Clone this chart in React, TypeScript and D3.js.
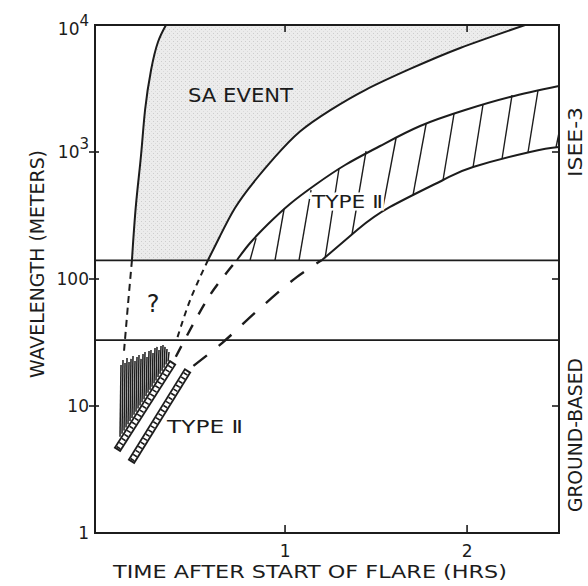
import React, { useEffect, useRef } from "react";
import * as d3 from "d3";

// points are [hours after flare start, wavelength in meters]
const saLeft = [[0.159, 141], [0.181, 383], [0.209, 947], [0.231, 2142], [0.264, 4424], [0.302, 7345], [0.346, 10000]];
const saRight = [[0.577, 141], [0.643, 218], [0.725, 362], [0.824, 570], [0.945, 914], [1.082, 1450], [1.247, 2130], [1.44, 3076], [1.687, 4508], [1.962, 6593], [2.319, 10000]];
const typeTwoUpper = [[0.736, 141], [0.808, 192], [0.907, 271], [1.027, 390], [1.165, 550], [1.33, 790], [1.522, 1115], [1.742, 1603], [1.989, 2142], [2.236, 2711], [2.505, 3311]];
const typeTwoLower = [[1.203, 141], [1.396, 243], [1.577, 369], [1.868, 602], [2.033, 762], [2.346, 1000], [2.505, 1094]];

const saLeftExt = [[0.159, 141], [0.137, 62.4], [0.115, 26.6]];
const saRightExt = [[0.577, 141], [0.478, 68], [0.401, 31.9]];
const typeTwoUpperExt = [[0.385, 22.2], [0.588, 74.8], [0.736, 141]];
const typeTwoLowerExt = [[0.467, 19.2], [0.654, 31.3], [0.846, 56], [1.066, 104], [1.203, 141]];

// ground based type II drifts (ladder strips)
const stripUpper = [[0.077, 4.5], [0.385, 22.2]];
const stripLower = [[0.154, 3.62], [0.467, 19.2]];

// hatching in the ISEE-3 type II band: [t0, m0, t1, m1]
const bandHatch = [
  [0.808, 141, 0.841, 210],
  [0.945, 141, 0.995, 356],
  [1.077, 141, 1.143, 502],
  [1.22, 146, 1.297, 748],
  [1.368, 226, 1.445, 1018],
  [1.533, 337, 1.61, 1289],
  [1.703, 458, 1.775, 1662],
  [1.868, 602, 1.929, 2028],
  [2.033, 762, 2.088, 2388],
  [2.192, 881, 2.247, 2811],
  [2.335, 1000, 2.39, 3077],
  [2.489, 1095, 2.505, 1412],
];

// type III burst hatching: [t, bottom m, top m]
const burstHatch = [
  [0.0934, 5.72, 21.0], [0.1044, 6.05, 23.0], [0.1154, 6.4, 21.8], [0.1264, 6.78, 23.9],
  [0.1374, 7.18, 22.2], [0.1484, 7.6, 23.5], [0.1593, 8.04, 24.8], [0.1703, 8.52, 22.6],
  [0.1813, 9.02, 24.3], [0.1923, 9.54, 25.2], [0.2033, 10.1, 23.5], [0.2143, 10.7, 25.7],
  [0.2253, 11.3, 26.6], [0.2363, 12.0, 24.3], [0.2473, 12.7, 27.1], [0.2582, 13.4, 27.6],
  [0.2692, 14.2, 26.1], [0.2802, 15.1, 28.6], [0.2912, 15.9, 29.2], [0.3022, 16.9, 27.6],
  [0.3132, 17.9, 29.7], [0.3242, 18.9, 30.2], [0.3352, 20.0, 29.2], [0.3462, 21.2, 28.1],
  [0.3571, 22.4, 26.6],
];

const bandLimits = [140, 33];
const yTicks = [1, 10, 100, 1000, 10000];
const yTickLabels = ["1", "10", "100", "10|3", "10|4"];
const xTicks = [1, 2];
const xTickLabels = ["1", "2"];

const FONT = "DejaVu Sans, Liberation Sans, sans-serif";
const INK = "#1c1c1c";

export default function App() {
  const ref = useRef<SVGSVGElement>(null);

  useEffect(() => {
    const svg = d3.select(ref.current);
    svg.selectAll("*").remove();

    const x = d3.scaleLinear().domain([-0.044, 2.505]).range([95, 559]);
    const y = d3.scaleLog().domain([1, 10000]).range([533, 25]);
    const [x0, x1] = x.range();
    const [y0, y1] = y.range();

    const defs = svg.append("defs");
    defs.append("clipPath").attr("id", "plot")
      .append("rect").attr("x", x0).attr("y", y1).attr("width", x1 - x0).attr("height", y0 - y1);
    const pat = defs.append("pattern").attr("id", "stipple")
      .attr("width", 4).attr("height", 4).attr("patternUnits", "userSpaceOnUse");
    pat.append("rect").attr("width", 4).attr("height", 4).attr("fill", "#ececec");
    pat.append("rect").attr("x", 1).attr("y", 1).attr("width", 1).attr("height", 1).attr("fill", "#cdcdcd");
    pat.append("rect").attr("x", 3).attr("y", 3).attr("width", 1).attr("height", 1).attr("fill", "#dadada");

    const smooth = d3.line<number[]>()
      .x(d => x(d[0])).y(d => y(d[1]))
      .curve(d3.curveNatural);
    const line = d3.line<number[]>()
      .x(d => x(d[0])).y(d => y(d[1]))
      .curve(d3.curveCatmullRom.alpha(0.5));

    const g = svg.append("g").attr("clip-path", "url(#plot)");

    // SA event shaded region
    const leftPath = smooth(saLeft) as string;
    const rightPath = smooth(saRight.slice().reverse()) as string;
    g.append("path")
      .attr("d", leftPath + rightPath.replace(/^M/, "L") + "Z")
      .attr("fill", "url(#stipple)");

    // band hatching
    g.selectAll(".bh").data(bandHatch).enter().append("line")
      .attr("x1", d => x(d[0])).attr("y1", d => y(d[1]))
      .attr("x2", d => x(d[2])).attr("y2", d => y(d[3]))
      .attr("stroke", INK).attr("stroke-width", 1.4);

    // boundary curves
    [saLeft, saRight, typeTwoUpper, typeTwoLower].forEach(pts => {
      g.append("path").attr("d", smooth(pts) as string)
        .attr("fill", "none").attr("stroke", INK).attr("stroke-width", 2);
    });

    // horizontal limits between ISEE-3 and ground based
    g.selectAll(".lim").data(bandLimits).enter().append("line")
      .attr("x1", x0).attr("x2", x1)
      .attr("y1", d => y(d)).attr("y2", d => y(d))
      .attr("stroke", INK).attr("stroke-width", 1.8);

    // dashed extrapolations
    const dashed: [number[][], string, number][] = [
      [saLeftExt, "7 5", 2],
      [saRightExt, "6 5", 2],
      [typeTwoUpperExt, "0 6 12 6", 2.4],
      [typeTwoLowerExt, "0 7 17 8", 2.4],
    ];
    dashed.forEach(([pts, dash, w]) => {
      g.append("path").attr("d", line(pts) as string)
        .attr("fill", "none").attr("stroke", INK).attr("stroke-width", w)
        .attr("stroke-dasharray", dash);
    });

    // burst hatching
    g.selectAll(".burst").data(burstHatch).enter().append("line")
      .attr("x1", d => x(d[0])).attr("x2", d => x(d[0]) + 1)
      .attr("y1", d => y(d[1])).attr("y2", d => y(d[2]))
      .attr("stroke", INK).attr("stroke-width", 1.5);

    // ladder strips
    [stripUpper, stripLower].forEach(pts => {
      const ax = x(pts[0][0]), ay = y(pts[0][1]);
      const bx = x(pts[1][0]), by = y(pts[1][1]);
      const len = Math.hypot(bx - ax, by - ay);
      const ux = (bx - ax) / len, uy = (by - ay) / len;
      g.append("line").attr("x1", ax).attr("y1", ay).attr("x2", bx).attr("y2", by)
        .attr("stroke", INK).attr("stroke-width", 8);
      const s = 2;
      g.append("line").attr("x1", ax + ux * s).attr("y1", ay + uy * s)
        .attr("x2", bx - ux * s).attr("y2", by - uy * s)
        .attr("stroke", "#fff").attr("stroke-width", 4.4);
      g.append("line").attr("x1", ax + ux * s).attr("y1", ay + uy * s)
        .attr("x2", bx - ux * s).attr("y2", by - uy * s)
        .attr("stroke", INK).attr("stroke-width", 4.4).attr("stroke-dasharray", "1.6 3.2");
    });

    // frame
    svg.append("rect").attr("x", x0).attr("y", y1).attr("width", x1 - x0).attr("height", y0 - y1)
      .attr("fill", "none").attr("stroke", INK).attr("stroke-width", 2);

    // ticks
    const tk = svg.append("g").attr("stroke", INK).attr("stroke-width", 1.6);
    yTicks.slice(1, 4).forEach(v => {
      tk.append("line").attr("x1", x0 - 6).attr("x2", x0 + 4).attr("y1", y(v)).attr("y2", y(v));
      tk.append("line").attr("x1", x1 - 7).attr("x2", x1).attr("y1", y(v)).attr("y2", y(v));
    });
    xTicks.forEach(v => {
      tk.append("line").attr("x1", x(v)).attr("x2", x(v)).attr("y1", y0).attr("y2", y0 - 8);
      tk.append("line").attr("x1", x(v)).attr("x2", x(v)).attr("y1", y1).attr("y2", y1 + 7);
    });

    const txt = svg.append("g").attr("font-family", FONT).attr("fill", INK);

    // y tick labels
    yTicks.forEach((v, i) => {
      const parts = yTickLabels[i].split("|");
      const t = txt.append("text").attr("x", 89).attr("y", y(v) + (v === 10000 ? 10 : 6))
        .attr("text-anchor", "end").attr("font-size", 17);
      t.append("tspan").text(parts[0]);
      if (parts[1]) t.append("tspan").attr("dy", -9).attr("font-size", 15).text(parts[1]);
    });

    // x tick labels
    xTicks.forEach((v, i) => {
      txt.append("text").attr("x", x(v)).attr("y", 557).attr("text-anchor", "middle")
        .attr("font-size", 17).text(xTickLabels[i]);
    });

    // axis titles
    txt.append("text").attr("x", 113).attr("y", 578).attr("font-size", 18)
      .attr("textLength", 394).attr("lengthAdjust", "spacingAndGlyphs")
      .text("TIME AFTER START OF FLARE  (HRS)");
    txt.append("text").attr("transform", "translate(44,264) rotate(-90)")
      .attr("text-anchor", "middle").attr("font-size", 19)
      .attr("textLength", 228).attr("lengthAdjust", "spacingAndGlyphs")
      .text("WAVELENGTH (METERS)");
    txt.append("text").attr("transform", `translate(582,${y(1200)}) rotate(-90)`)
      .attr("text-anchor", "middle").attr("font-size", 19)
      .attr("textLength", 70).attr("lengthAdjust", "spacingAndGlyphs")
      .text("ISEE-3");
    txt.append("text").attr("transform", `translate(582,${y(5.9)}) rotate(-90)`)
      .attr("text-anchor", "middle").attr("font-size", 19)
      .attr("textLength", 154).attr("lengthAdjust", "spacingAndGlyphs")
      .text("GROUND-BASED");

    // annotations
    txt.append("text").attr("x", x(0.467)).attr("y", y(2477)).attr("font-size", 20)
      .attr("textLength", 105).attr("lengthAdjust", "spacingAndGlyphs")
      .text("SA EVENT");
    txt.append("text").attr("x", x(0.275)).attr("y", y(55)).attr("text-anchor", "middle")
      .attr("font-size", 24).text("?");
    txt.append("text").attr("x", x(0.352)).attr("y", y(6.13)).attr("font-size", 18)
      .attr("textLength", 76).attr("lengthAdjust", "spacingAndGlyphs")
      .text("TYPE Ⅱ");
    txt.append("text").attr("x", x(1.148)).attr("y", y(362)).attr("font-size", 18)
      .attr("textLength", 71).attr("lengthAdjust", "spacingAndGlyphs")
      .attr("stroke", "#fff").attr("stroke-width", 5).attr("paint-order", "stroke")
      .text("TYPE Ⅱ");
  }, []);

  return (
    <svg ref={ref} width={588} height={586}
      style={{ position: "absolute", left: 0, top: 0, background: "#fff" }} />
  );
}
